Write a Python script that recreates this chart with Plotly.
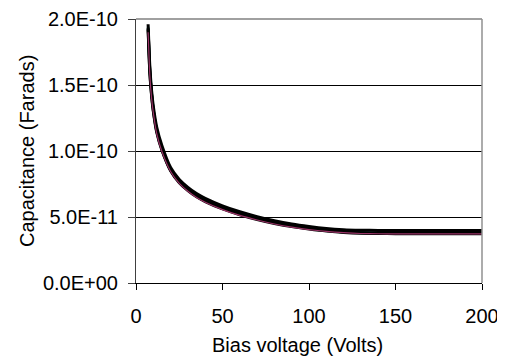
import plotly.graph_objects as go

# Bias voltage (Volts)
voltage = [7, 8, 9, 10, 12, 15, 20, 25, 30, 35, 40, 50, 60, 70, 80, 90, 100,
           110, 120, 130, 140, 150, 160, 170, 180, 190, 200]

# Capacitance (Farads), several devices
cap_a = [19.6e-11, 16.4e-11, 14.6e-11, 13.4e-11, 11.8e-11, 10.4e-11, 8.75e-11, 7.85e-11,
         7.25e-11, 6.78e-11, 6.42e-11, 5.85e-11, 5.4e-11, 5.03e-11, 4.72e-11, 4.47e-11,
         4.28e-11, 4.13e-11, 4.04e-11, 4.0e-11, 3.98e-11, 3.98e-11, 3.98e-11, 3.98e-11,
         3.98e-11, 3.98e-11, 3.98e-11]
cap_b = [19.3e-11, 16.0e-11, 14.3e-11, 13.1e-11, 11.5e-11, 10.1e-11, 8.55e-11, 7.65e-11,
         7.05e-11, 6.58e-11, 6.22e-11, 5.66e-11, 5.22e-11, 4.86e-11, 4.56e-11, 4.31e-11,
         4.12e-11, 3.97e-11, 3.86e-11, 3.8e-11, 3.77e-11, 3.76e-11, 3.76e-11, 3.76e-11,
         3.76e-11, 3.76e-11, 3.76e-11]
cap_c = [19.0e-11, 15.7e-11, 14.0e-11, 12.9e-11, 11.3e-11, 9.95e-11, 8.45e-11, 7.55e-11,
         6.95e-11, 6.48e-11, 6.12e-11, 5.56e-11, 5.12e-11, 4.77e-11, 4.47e-11, 4.23e-11,
         4.05e-11, 3.91e-11, 3.81e-11, 3.75e-11, 3.73e-11, 3.72e-11, 3.72e-11, 3.72e-11,
         3.72e-11, 3.72e-11, 3.72e-11]
cap_d = [19.4e-11, 16.2e-11, 14.45e-11, 13.25e-11, 11.65e-11, 10.25e-11, 8.65e-11, 7.75e-11,
         7.15e-11, 6.68e-11, 6.32e-11, 5.76e-11, 5.3e-11, 4.94e-11, 4.63e-11, 4.39e-11,
         4.2e-11, 4.05e-11, 3.92e-11, 3.84e-11, 3.8e-11, 3.78e-11, 3.78e-11, 3.78e-11,
         3.78e-11, 3.78e-11, 3.78e-11]
cap_e = [19.2e-11, 15.9e-11, 14.2e-11, 13.0e-11, 11.4e-11, 10.05e-11, 8.5e-11, 7.6e-11,
         7.0e-11, 6.53e-11, 6.17e-11, 5.61e-11, 5.17e-11, 4.81e-11, 4.51e-11, 4.27e-11,
         4.09e-11, 3.94e-11, 3.83e-11, 3.77e-11, 3.75e-11, 3.74e-11, 3.74e-11, 3.74e-11,
         3.74e-11, 3.74e-11, 3.74e-11]

x_ticks = [0, 50, 100, 150, 200]
y_ticks = [0, 5e-11, 1e-10, 1.5e-10, 2e-10]
y_tick_labels = ["0.0E+00", "5.0E-11", "1.0E-10", "1.5E-10", "2.0E-10"]

FONT = "Liberation Sans, Arial, sans-serif"

fig = go.Figure()
series = [
    (cap_d, "#008080", 2.5),
    (cap_a, "#000000", 3),
    (cap_b, "#000000", 3),
    (cap_e, "#000000", 3),
    (cap_c, "#993366", 1.2),
]
for vals, color, w in series:
    fig.add_trace(go.Scatter(x=voltage, y=vals, mode="lines",
                             line=dict(color=color, width=w, shape="spline", smoothing=0.6),
                             showlegend=False, hoverinfo="skip"))

# page has an 8px body margin; plot area in page: x 136-482, y 19-283
fig.update_layout(
    width=497, height=348,
    margin=dict(l=128, r=23, t=11, b=73, autoexpand=False),
    paper_bgcolor="white", plot_bgcolor="white",
    font=dict(family=FONT, size=20, color="black"),
    showlegend=False,
    xaxis=dict(range=[0, 200], tickvals=x_ticks, ticks="outside", ticklen=6,
               tickcolor="black", showline=True, linecolor="black", linewidth=1,
               showgrid=False, zeroline=False, tickfont=dict(size=20), automargin=False,
               ticklabelstandoff=9),
    yaxis=dict(range=[0, 2e-10], tickvals=y_ticks, ticktext=y_tick_labels,
               ticks="outside", ticklen=7, tickcolor="#404040",
               showline=True, linecolor="#404040", linewidth=1,
               showgrid=True, gridcolor="black", gridwidth=1, zeroline=False,
               tickfont=dict(size=20), automargin=False, ticklabelstandoff=6),
    shapes=[
        dict(type="line", xref="paper", yref="paper", x0=0, x1=1, y0=1, y1=1,
             line=dict(color="#808080", width=1.5)),
        dict(type="line", xref="paper", yref="paper", x0=1, x1=1, y0=0, y1=1,
             line=dict(color="#909090", width=1.5)),
    ],
    annotations=[
        dict(text="Bias voltage (Volts)", xref="paper", yref="paper",
             x=(297 - 136) / 346, y=-(345 - 283) / 264, xanchor="center", yanchor="middle",
             showarrow=False, font=dict(size=20)),
        dict(text="Capacitance (Farads)", xref="paper", yref="paper",
             x=-(136 - 27) / 346, y=0.5, xanchor="center", yanchor="middle",
             textangle=-90, showarrow=False, font=dict(size=20)),
    ],
)

fig.write_html("out.html")
